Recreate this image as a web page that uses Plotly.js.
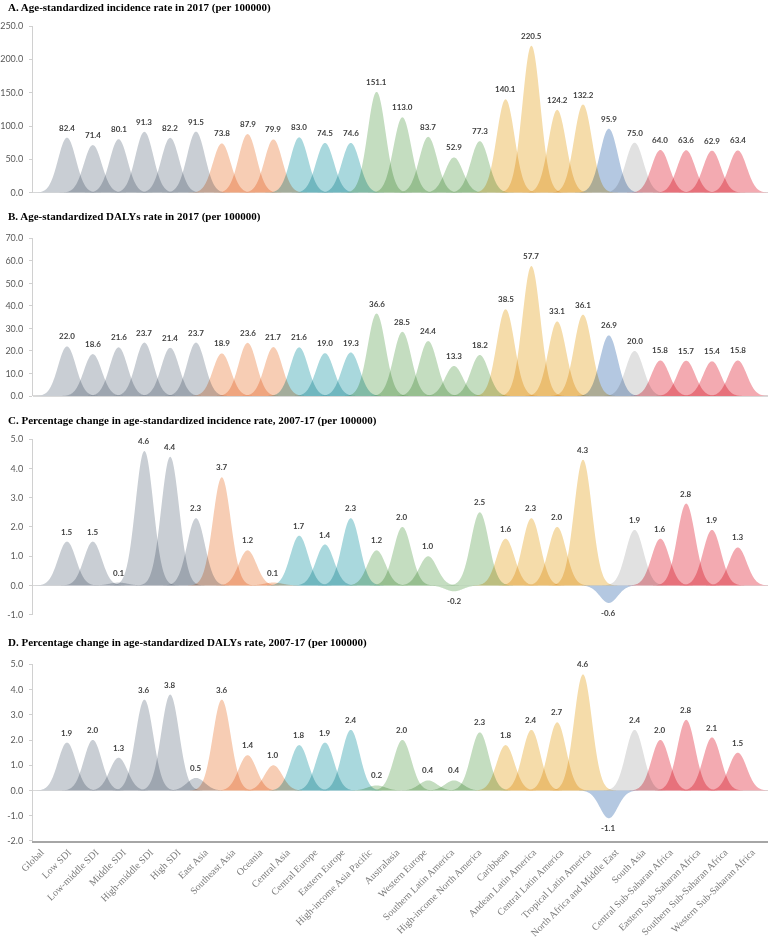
<!DOCTYPE html>
<html>
<head>
<meta charset="utf-8">
<script src="https://cdn.plot.ly/plotly-3.0.1.min.js"></script>
<style>
html,body{margin:0;padding:0;background:#fff;}
#chart{width:780px;height:938px;}
</style>
</head>
<body>
<div id="chart"></div>
<script>
// ---------- DATA ----------
const categories = [
  "Global","Low SDI","Low-middle SDI","Middle SDI","High-middle SDI","High SDI",
  "East Asia","Southeast Asia","Oceania",
  "Central Asia","Central Europe","Eastern Europe",
  "High-income Asia Pacific","Australasia","Western Europe","Southern Latin America","High-income North America",
  "Caribbean","Andean Latin America","Central Latin America","Tropical Latin America",
  "North Africa and Middle East","South Asia",
  "Central Sub-Saharan Africa","Eastern Sub-Saharan Africa","Southern Sub-Saharan Africa","Western Sub-Saharan Africa"
];
const groupOf = [
  "sdi","sdi","sdi","sdi","sdi","sdi",
  "seasia","seasia","seasia",
  "europe","europe","europe",
  "highincome","highincome","highincome","highincome","highincome",
  "latin","latin","latin","latin",
  "name","southasia",
  "ssa","ssa","ssa","ssa"
];
const incidence2017 = [82.4,71.4,80.1,91.3,82.2,91.5,73.8,87.9,79.9,83.0,74.5,74.6,151.1,113.0,83.7,52.9,77.3,140.1,220.5,124.2,132.2,95.9,75.0,64.0,63.6,62.9,63.4];
const dalys2017     = [22.0,18.6,21.6,23.7,21.4,23.7,18.9,23.6,21.7,21.6,19.0,19.3,36.6,28.5,24.4,13.3,18.2,38.5,57.7,33.1,36.1,26.9,20.0,15.8,15.7,15.4,15.8];
const incidenceChange = [1.5,1.5,0.1,4.6,4.4,2.3,3.7,1.2,0.1,1.7,1.4,2.3,1.2,2.0,1.0,-0.2,2.5,1.6,2.3,2.0,4.3,-0.6,1.9,1.6,2.8,1.9,1.3];
const dalysChange     = [1.9,2.0,1.3,3.6,3.8,0.5,3.6,1.4,1.0,1.8,1.9,2.4,0.2,2.0,0.4,0.4,2.3,1.8,2.4,2.7,4.6,-1.1,2.4,2.0,2.8,2.1,1.5];
const panelTitles = [
  "A. Age-standardized incidence rate in 2017 (per 100000)",
  "B. Age-standardized DALYs rate in 2017 (per 100000)",
  "C. Percentage change in age-standardized incidence rate, 2007-17 (per 100000)",
  "D. Percentage change in age-standardized DALYs rate, 2007-17 (per 100000)"
];
const ticksA = [0,50,100,150,200,250];
const ticksB = [0,10,20,30,40,50,60,70];
const ticksC = [-1,0,1,2,3,4,5];
const ticksD = [-2,-1,0,1,2,3,4,5];

// ---------- STYLE ----------
const groupColors = {
  sdi:"#c9ced4", seasia:"#f7cdb4", europe:"#a9d8dd", highincome:"#c4ddc0",
  latin:"#f5dcaa", name:"#b4c8e1", southasia:"#e1e1e1", ssa:"#f3aab1"
};
const SIGMA = 0.345;
const panels = [
  {vals:incidence2017, ticks:ticksA, range:[0,250],  dom:[0.7955,1.0]},
  {vals:dalys2017,     ticks:ticksB, range:[0,70],   dom:[0.546,0.7395]},
  {vals:incidenceChange, ticks:ticksC, range:[-1,5], dom:[0.2777,0.4929]},
  {vals:dalysChange,   ticks:ticksD, range:[-2,5],   dom:[0,0.2168]}
];
const titleY = [8,217,420,642];

const traces = [];
const annotations = [];
const layout = {
  width:780, height:938,
  margin:{l:33, r:12, t:26, b:97},
  paper_bgcolor:"#ffffff", plot_bgcolor:"rgba(0,0,0,0)",
  showlegend:false, hovermode:false,
  font:{family:"Lato, 'Open Sans', sans-serif", color:"#595959"},
  annotations:annotations
};

// label anchor pixels -> axis units (peak spacing 25.8px, first peak at 67px, plot left 33px)
const pxToUnit = p => (p - 67) / 25.8;
layout.xaxis = {
  type:"linear", range:[pxToUnit(33), pxToUnit(768)], anchor:"y4",
  showgrid:false, zeroline:false, showline:true, linecolor:"#a6a6a6", linewidth:1.5,
  ticks:"", tickmode:"array",
  tickvals:categories.map((c,i)=>pxToUnit(41 + 27.35*i)),
  ticktext:categories, tickangle:-45,
  tickfont:{family:"'Liberation Serif', 'Times New Roman', serif", size:10, color:"#7a7a7a"}
};

panels.forEach((p, k) => {
  const yname = k === 0 ? "y" : "y" + (k+1);
  const ykey = k === 0 ? "yaxis" : "yaxis" + (k+1);
  layout[ykey] = {
    domain:p.dom, range:p.range, anchor:"x",
    showgrid:false, showline:true, linecolor:"#d0d0d0", linewidth:1,
    zeroline:true, zerolinecolor:"#d9d9d9", zerolinewidth:1.5,
    ticks:"outside", ticklen:3, tickcolor:"#d0d0d0", tickwidth:1,
    tickmode:"array", tickvals:p.ticks, ticktext:p.ticks.map(v=>v.toFixed(1)),
    tickfont:{family:"Lato, sans-serif", size:9, color:"#595959"},
    ticklabelstandoff:4
  };
  p.vals.forEach((v, i) => {
    const xs = [], ys = [];
    for (let d = -1.4; d <= 1.4001; d += 0.02) {
      xs.push(i + d);
      ys.push(v * Math.exp(-(d*d)/(2*SIGMA*SIGMA)));
    }
    traces.push({
      type:"scatter", mode:"none", x:xs, y:ys, xaxis:"x", yaxis:yname,
      fill:"tozeroy", fillcolor:groupColors[groupOf[i]], hoverinfo:"skip"
    });
    annotations.push({
      xref:"x", yref:yname, x:i, y:v, text:v.toFixed(1), showarrow:false,
      yanchor: v < 0 ? "top" : "bottom", yshift: v < 0 ? -3 : 3,
      font:{family:"Lato, sans-serif", size:8, color:"#404040", weight:700}
    });
  });
  annotations.push({
    xref:"paper", yref:"paper", x:(6-33)/735, y:(841-titleY[k])/815,
    xanchor:"left", yanchor:"middle", showarrow:false, text:"<b>"+panelTitles[k]+"</b>",
    font:{family:"'Liberation Serif', 'Times New Roman', serif", size:11, color:"#000000"}
  });
});

Plotly.newPlot("chart", traces, layout, {staticPlot:true, displayModeBar:false}).then(() => {
  document.querySelectorAll(".scatterlayer .trace").forEach(g => {
    g.style.mixBlendMode = "multiply";
  });
});
</script>
</body>
</html>
